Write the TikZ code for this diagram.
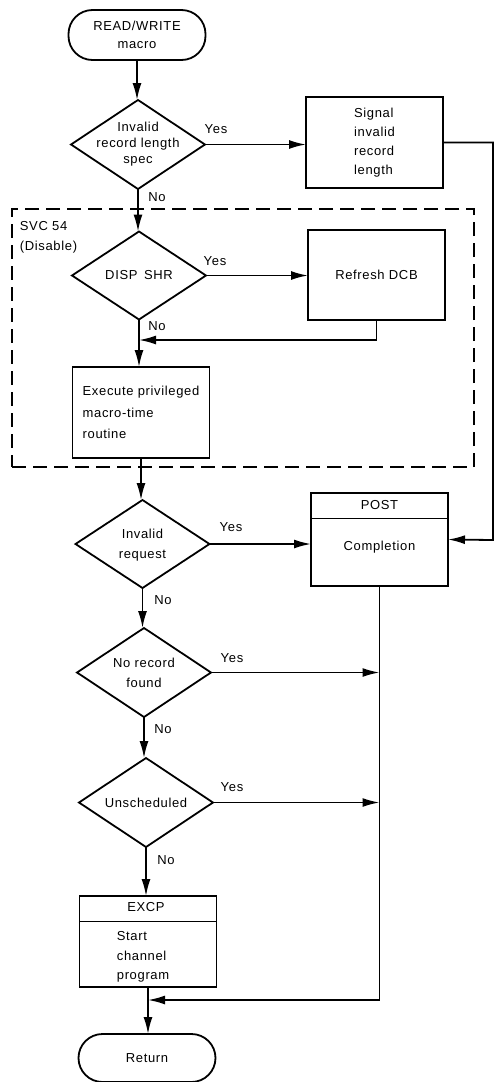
\documentclass[tikz,border=0pt]{standalone}
\usepackage{fontspec}
\setmainfont{Liberation Sans}[LetterSpace=5]
\usetikzlibrary{shapes.geometric,arrows.meta,calc}

\begin{document}
\begin{tikzpicture}[x=1pt,y=-1pt,
  line width=1.8pt,
  every node/.style={font=\fontsize{13}{16}\selectfont},
  arr/.style={-{Latex[length=17pt,width=9pt]}},
  decision/.style={diamond,draw,inner sep=0pt,outer sep=0pt,
    minimum width=134pt,minimum height=89pt},
  procbox/.style={rectangle,draw,inner sep=3pt,outer sep=0pt,
    minimum width=137pt,minimum height=91pt},
  terminal/.style={rectangle,draw,rounded corners=24pt,outer sep=0pt,
    minimum width=137pt,minimum height=50pt},
  inner/.style={inner sep=0pt,align=center},
  lbl/.style={inner sep=0pt},
  region/.style={draw,dashed,dash pattern=on 14pt off 7pt,inner sep=0pt,
    line width=1.6pt,minimum width=462pt,minimum height=258pt},
  headline/.style={line width=1pt},
]
\useasboundingbox (0,0) rectangle (495,1082);

% --- start and first check ---
\node[terminal,align=center,font=\fontsize{13}{18}\selectfont] (start) at (137,35) {READ/WRITE\\macro};
\node[decision] (d1) at (138,144.5) {};
\node[inner] (d1t) at (138,144) {Invalid\\record length\\spec};
\node[procbox,align=left,font=\fontsize{13}{19}\selectfont] (sig) at (374.5,142.5) {Signal\\invalid\\record\\length};

% --- disabled region (SVC 54) ---
\node[region] (svc) at (243,338) {};
\node[lbl,anchor=west,align=left,font=\fontsize{13}{20}\selectfont] (svct) at (19,237) {SVC 54\\(Disable)};
\node[decision,minimum height=88pt] (d2) at (139,275.5) {};
\node[inner] (d2t) at (139,275) {DISP\enspace SHR};
\node[procbox,minimum height=90pt] (ref) at (376.5,275) {Refresh DCB};
\node[procbox,align=left,font=\fontsize{13}{21.5}\selectfont] (exec) at (141,412.5) {Execute privileged\\macro-time\\routine};

% --- request checks ---
\node[decision,minimum height=88pt] (d3) at (142.5,544) {};
\node[inner,font=\fontsize{13}{20}\selectfont] (d3t) at (142.5,545) {Invalid\\request};
\node[procbox,minimum height=93pt] (post) at (379.5,539.5) {};
\node[lbl] (postt) at (379.5,505) {POST};
\node[lbl] (postc) at (379.5,547) {Completion};

\node[decision] (d4) at (144,672.5) {};
\node[inner,font=\fontsize{13}{20}\selectfont] (d4t) at (144,673) {No record\\found};
\node[decision] (d5) at (146,802.5) {};
\node[inner] (d5t) at (146,803) {Unscheduled};

\node[procbox] (excp) at (148,941.5) {};
\node[lbl] (excpt) at (146,907) {EXCP};
\node[lbl,anchor=west,align=left,font=\fontsize{13}{19.5}\selectfont] (excpb) at (116,957) {Start\\channel\\program};
\node[terminal,minimum height=48pt] (ret) at (147,1058) {Return};

% header rules of the predefined-process boxes
\draw[headline] ($(post.north west)+(0,25)$) -- ($(post.north east)+(0,25)$);
\draw[headline] ($(excp.north west)+(0,25)$) -- ($(excp.north east)+(0,25)$);

% --- branch labels ---
\node[lbl] (y1) at (216,129) {Yes};
\node[lbl] (n1) at (157,197) {No};
\node[lbl] (y2) at (215,261) {Yes};
\node[lbl] (n2) at (157,326) {No};
\node[lbl] (y3) at (231,527) {Yes};
\node[lbl] (n3) at (163,600) {No};
\node[lbl] (y4) at (232,658) {Yes};
\node[lbl] (n4) at (163,729) {No};
\node[lbl] (y5) at (232,787) {Yes};
\node[lbl] (n5) at (166,860) {No};

% --- helper points ---
\coordinate (rbot) at (493,540);
\coordinate (j2) at (d2.south |- 0,340);
\coordinate (p4) at (post.south |- d4.east);
\coordinate (p5) at (post.south |- d5.east);
\coordinate (j6) at (excp.south |- 0,1000);

% --- connectors (main column drawn straight down) ---
\draw[arr] (start.south) -- (start.south |- d1.north);
\draw[arr] (d1.east) -- (d1.east -| sig.west);
\draw[arr] (d1.south) -- (d1.south |- d2.north);
\draw[arr] (d2.east) -- (d2.east -| ref.west);
\draw[arr] (d2.south) -- (d2.south |- exec.north);
\draw[arr] (ref.south) |- (j2);
\draw[arr] (exec.south) -- (exec.south |- d3.north);
\draw[arr] (sig.east) -| (rbot) -- (post.east);
\draw[arr] (d3.east) -- (d3.east -| post.west);
\draw[arr] (d3.south) -- (d3.south |- d4.north);
\draw[arr] (d4.east) -- (p4);
\draw[arr] (d4.south) -- (d4.south |- d5.north);
\draw[arr] (d5.east) -- (p5);
\draw[arr] (d5.south) -- (d5.south |- excp.north);
\draw[arr] (excp.south) -- (excp.south |- ret.north);
\draw[arr] (post.south) |- (j6);
\end{tikzpicture}
\end{document}
